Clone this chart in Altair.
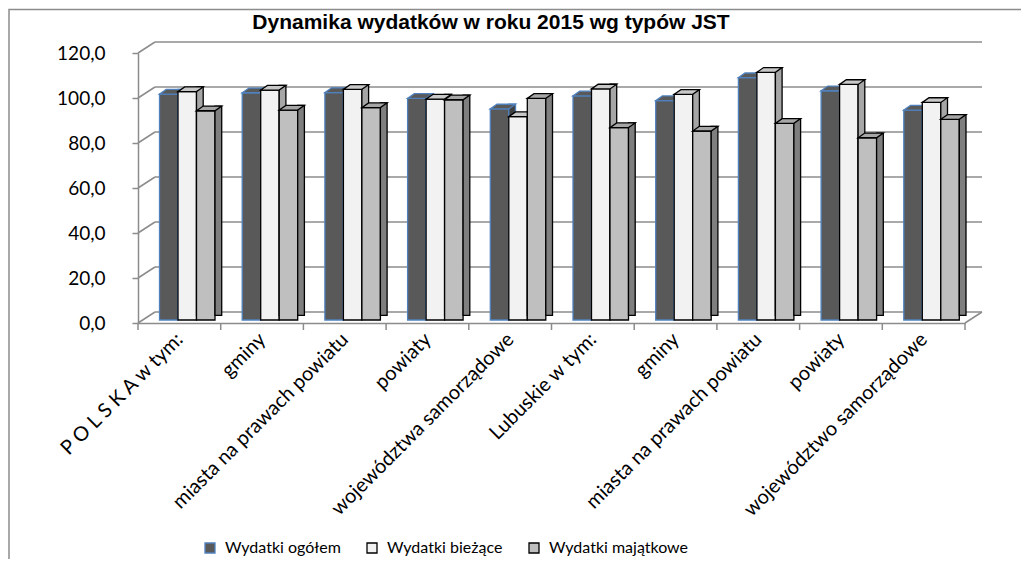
import json
import altair as alt
import pandas as pd

# ---------------- data ----------------
categories = ["P O L S K A  w tym:", "gminy", "miasta na prawach powiatu", "powiaty",
              "województwa samorządowe", "Lubuskie w tym:", "gminy",
              "miasta na prawach powiatu", "powiaty", "województwo samorządowe"]
series_names = ["Wydatki ogółem", "Wydatki bieżące", "Wydatki majątkowe"]
ogolem = [100.4, 101.0, 101.1, 98.5, 93.8, 99.6, 97.5, 107.7, 101.9, 93.3]
biezace = [101.5, 102.2, 102.5, 98.2, 90.4, 102.7, 100.3, 110.1, 104.7, 96.7]
majatkowe = [93.0, 93.3, 94.4, 97.9, 98.5, 85.5, 84.0, 87.4, 81.0, 89.2]
y_ticks = [0, 20, 40, 60, 80, 100, 120]
title_text = "Dynamika wydatków w roku 2015 wg typów JST"

# ---------------- style ----------------
W, H = 827, 270
BACK_DX, BACK_DY = 17, -11
BAR_W = 0.2237      # category units
GROUP_START = 0.26  # category units
DEPTH_X, DEPTH_Y = 6.7, 4.7
LIFT = 3
GRID = "#8C8C8C"
front_fill = ["#595959", "#F2F2F2", "#BFBFBF"]
edge = ["#4F81BD", "#000000", "#000000"]
side_fill = ["#404040", "#A6A6A6", "#7F7F7F"]
top_fill = ["#595959", "#C8C8C8", "#A6A6A6"]

rows = []
for s, (name, vals) in enumerate(zip(series_names, [ogolem, biezace, majatkowe])):
    for i, v in enumerate(vals):
        xl = i + GROUP_START + s * BAR_W
        rows.append(dict(cat=i, series=name, value=v, xl=xl, xr=xl + BAR_W, xc=xl + BAR_W / 2))
bars = pd.DataFrame(rows)
grid_df = pd.DataFrame({"t": y_ticks})
xtick_df = pd.DataFrame({"k": list(range(len(categories) + 1))})
one = pd.DataFrame({"title": [title_text]})

xs = alt.Scale(domain=[0, len(categories)], nice=False, zero=False)
ys = alt.Scale(domain=[0, 120], nice=False, zero=True)

# top-face parallelogram symbol (normalised)
bar_px = BAR_W * W / len(categories)
hw = (bar_px + DEPTH_X) / 2
hh = DEPTH_Y / 2
a = (bar_px - hw) / hw
b = hh / hw
top_path = f"M-1,{b:.4f}L{a:.4f},{b:.4f}L1,{-b:.4f}L{-a:.4f},{-b:.4f}Z"
top_size = (2 * hw) ** 2

label_lookup = json.dumps(categories, ensure_ascii=False)
x_axis = alt.Axis(values=[i + 0.5 for i in range(len(categories))],
                  labelExpr=f"{label_lookup}[floor(datum.value)]",
                  orient="bottom", ticks=False, grid=False, domain=True,
                  domainColor=GRID, domainWidth=1.5,
                  labelAngle=-45, labelAlign="right", labelBaseline="middle",
                  labelFont="Lato", labelFontSize=20, labelColor="#000000",
                  labelPadding=13, labelOverlap=False, labelFlush=False, labelLimit=0,
                  title=None, zindex=1)
y_axis = alt.Axis(values=y_ticks, labelExpr="replace(format(datum.value, '.1f'), '.', ',')",
                  orient="left", tickSize=6, tickColor=GRID, tickWidth=1.5, grid=False,
                  domain=True, domainColor=GRID, domainWidth=1.5,
                  labelFont="Lato", labelFontSize=19, labelColor="#000000",
                  labelPadding=27, title=None, zindex=1)

frame = alt.Chart(one).mark_rect(fill="transparent", fillOpacity=0, stroke="#8C8C8C",
                                 strokeWidth=1.5).encode(
    x=alt.value(-129), x2=alt.value(1200), y=alt.value(-43.5), y2=alt.value(800))

title = alt.Chart(one).mark_text(font="Liberation Sans", fontSize=21, fontWeight="bold",
                                 color="#000000", align="center", baseline="alphabetic").encode(
    text="title:N", x=alt.value(353), y=alt.value(-24))

back_grid = alt.Chart(grid_df).mark_rule(color=GRID, strokeWidth=1.5, yOffset=BACK_DY).encode(
    x=alt.value(BACK_DX), x2=alt.value(W + BACK_DX),
    y=alt.Y("t:Q", scale=ys, axis=y_axis))

wall = alt.Chart(grid_df).mark_rule(color=GRID, strokeWidth=1.5, y2Offset=BACK_DY).encode(
    x=alt.value(0), x2=alt.value(BACK_DX),
    y=alt.Y("t:Q", scale=ys, axis=y_axis), y2="t:Q")

floor_edge = alt.Chart(grid_df).transform_filter("datum.t == 0").mark_rule(
    color=GRID, strokeWidth=1.5, y2Offset=BACK_DY).encode(
    x=alt.value(W), x2=alt.value(W + BACK_DX),
    y=alt.Y("t:Q", scale=ys, axis=y_axis), y2="t:Q")

xticks = alt.Chart(xtick_df).mark_rule(color=GRID, strokeWidth=1.5).encode(
    x=alt.X("k:Q", scale=xs, axis=x_axis), y=alt.value(H), y2=alt.value(H + 7))

layers = [frame, title, back_grid, wall, floor_edge, xticks]

color_scale = alt.Scale(domain=series_names, range=front_fill)
stroke_scale = alt.Scale(domain=series_names, range=edge)
legend = alt.Legend(orient="none", legendX=64, legendY=487, direction="horizontal",
                    title=None, symbolType="square", symbolSize=100, symbolStrokeWidth=1.3,
                    labelFont="Lato", labelFontSize=16, labelColor="#000000",
                    labelOffset=7, columnPadding=23, padding=0)

for s, name in enumerate(series_names):
    base = alt.Chart(bars).transform_filter(alt.datum.series == name)
    front = base.mark_bar(yOffset=-LIFT, y2Offset=-LIFT, strokeWidth=1.3).encode(
        x=alt.X("xl:Q", scale=xs, axis=x_axis), x2="xr:Q",
        y=alt.Y("value:Q", scale=ys, axis=y_axis), y2=alt.datum(0),
        color=alt.Color("series:N", scale=color_scale, legend=legend),
        stroke=alt.Stroke("series:N", scale=stroke_scale, legend=legend))
    side = base.mark_bar(x2Offset=DEPTH_X, yOffset=-LIFT - DEPTH_Y, y2Offset=-LIFT - DEPTH_Y,
                         fill=side_fill[s], stroke=edge[s], strokeWidth=1.3).encode(
        x=alt.X("xr:Q", scale=xs, axis=x_axis), x2="xr:Q",
        y=alt.Y("value:Q", scale=ys, axis=y_axis), y2=alt.datum(0))
    top = base.mark_point(shape=top_path, size=top_size, filled=True, opacity=1,
                          fill=top_fill[s], stroke=edge[s], strokeWidth=1.3,
                          xOffset=DEPTH_X / 2, yOffset=-LIFT - DEPTH_Y / 2).encode(
        x=alt.X("xc:Q", scale=xs, axis=x_axis),
        y=alt.Y("value:Q", scale=ys, axis=y_axis))
    layers += [front, side, top]

chart = alt.layer(*layers).properties(
    width=W, height=H,
    padding={"left": 130, "top": 45, "right": 56, "bottom": 236},
    autosize=alt.AutoSizeParams(type="none"),
).configure_view(stroke=None)

chart.save("out.html", embed_options={"renderer": "svg", "actions": False})
